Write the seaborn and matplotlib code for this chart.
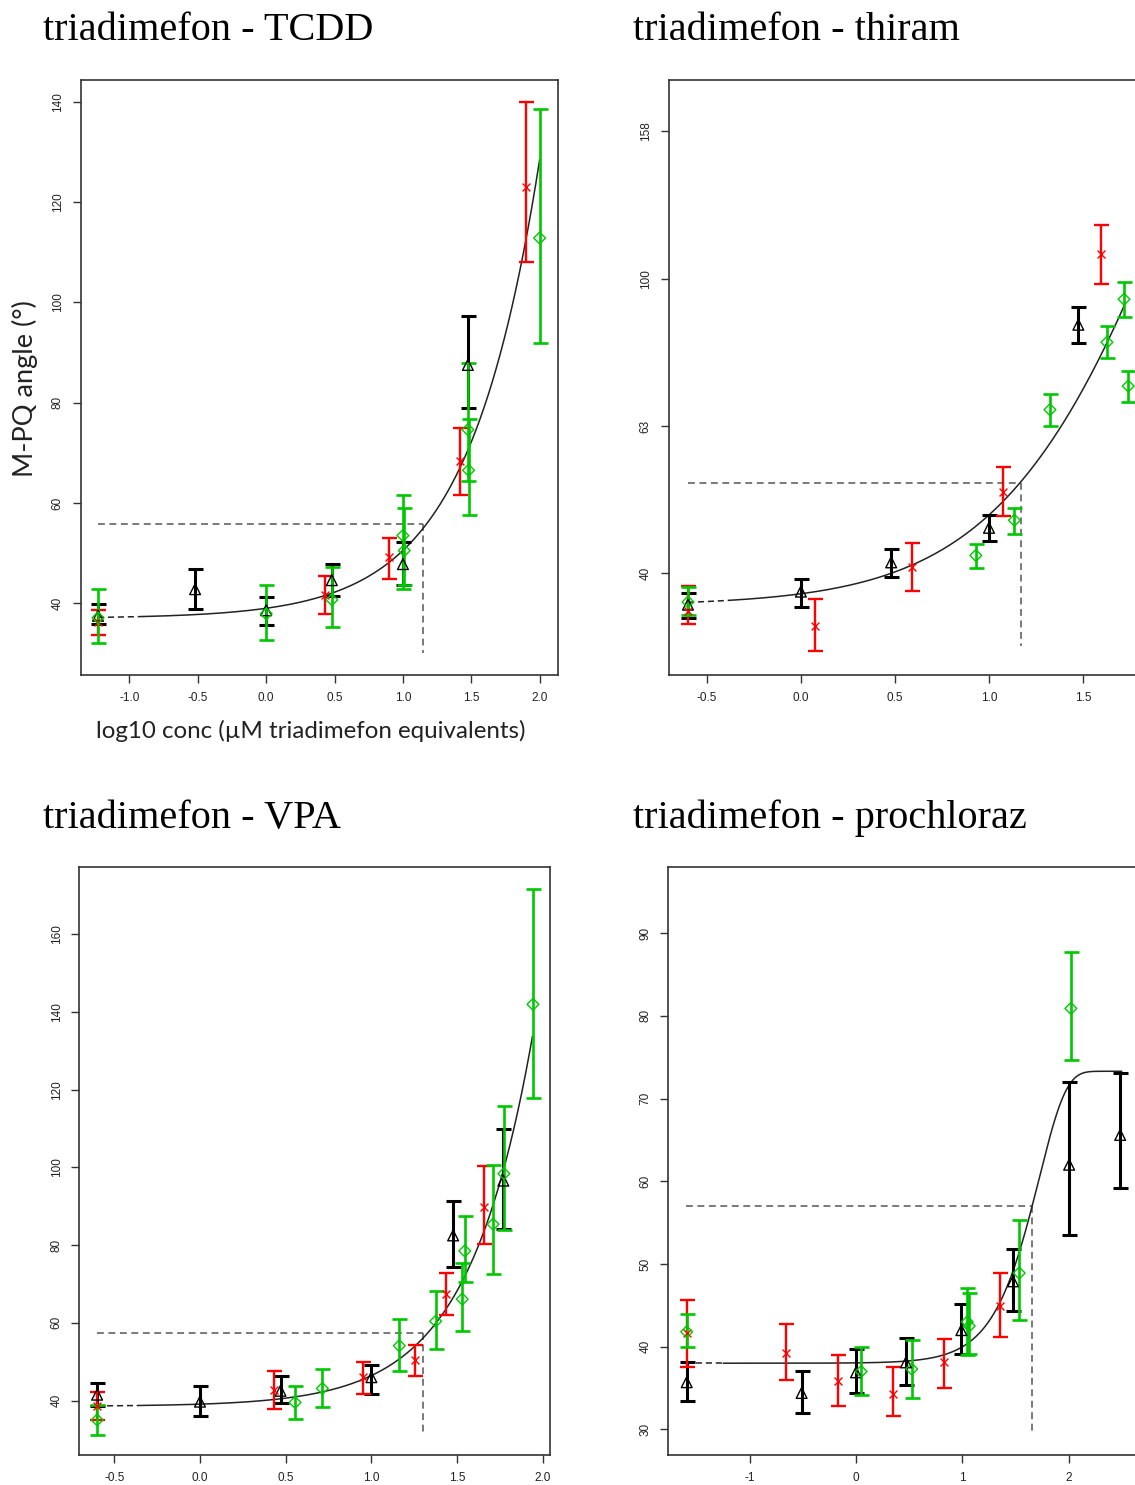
import numpy as np
import matplotlib
matplotlib.use("Agg")
import matplotlib.pyplot as plt
import seaborn as sns

# ------------------------------------------------------------------ data
titles = ["triadimefon - TCDD", "triadimefon - thiram",
          "triadimefon - VPA", "triadimefon - prochloraz"]
ylabel_text = "M-PQ angle (°)"
xlabel_text = "log10 conc (µM triadimefon equivalents)"

# Panel 1: TCDD
tcdd_black_x = [-1.23, -0.52, 0.0, 0.48, 1.0, 1.475]
tcdd_black_y = [37.5, 42.8, 38.6, 44.6, 47.8, 87.5]
tcdd_black_lo = [35.9, 38.9, 35.7, 41.5, 43.7, 79.0]
tcdd_black_hi = [39.8, 46.9, 41.3, 47.9, 52.2, 97.3]
tcdd_red_x = [-1.23, 0.43, 0.90, 1.42, 1.90]
tcdd_red_y = [36.3, 41.6, 49.3, 68.3, 123.0]
tcdd_red_lo = [33.6, 37.8, 44.9, 61.6, 108.0]
tcdd_red_hi = [38.6, 45.4, 53.1, 75.0, 140.0]
tcdd_green_x = [-1.23, 0.0, 0.48, 1.0, 1.01, 1.475, 1.48, 2.0]
tcdd_green_y = [37.1, 37.9, 40.7, 53.5, 50.5, 74.6, 66.5, 112.8]
tcdd_green_lo = [32.1, 32.7, 35.3, 42.9, 43.7, 64.3, 57.6, 91.8]
tcdd_green_hi = [42.8, 43.6, 47.3, 61.6, 58.9, 87.9, 76.8, 138.6]
tcdd_fit = [37.0, 2.0, 0.83]            # base, amplitude, rate
tcdd_fit_range = [-1.23, -0.90, 2.0]     # start, end of extrapolated part, end
tcdd_threshold = [1.145, 55.7, 30.0]     # x, y, bottom of drop line

# Panel 2: thiram (log y axis)
thiram_black_x = [-0.60, 0.0, 0.48, 1.0, 1.475]
thiram_black_y = [36.1, 37.6, 41.2, 45.9, 86.6]
thiram_black_lo = [34.6, 35.8, 39.4, 44.0, 81.8]
thiram_black_hi = [37.4, 39.1, 42.9, 47.8, 91.5]
thiram_red_x = [-0.60, 0.075, 0.592, 1.073, 1.594]
thiram_red_y = [35.4, 33.8, 40.6, 51.4, 108.0]
thiram_red_lo = [34.0, 31.2, 37.7, 47.7, 98.5]
thiram_red_hi = [38.3, 36.7, 43.8, 55.5, 118.3]
thiram_green_x = [-0.60, 0.93, 1.135, 1.324, 1.627, 1.718, 1.740]
thiram_green_y = [36.4, 42.1, 47.0, 66.4, 82.0, 93.8, 71.5]
thiram_green_lo = [34.9, 40.5, 45.0, 63.1, 78.0, 88.7, 68.0]
thiram_green_hi = [38.1, 43.7, 48.9, 69.8, 86.2, 98.9, 75.0]
thiram_fit = [36.0, 1.35, 0.941]
thiram_fit_range = [-0.60, -0.38, 1.725]
thiram_threshold = [1.17, 52.8, 31.7]

# Panel 3: VPA
vpa_black_x = [-0.60, 0.0, 0.47, 1.0, 1.477, 1.77]
vpa_black_y = [41.5, 39.7, 42.5, 46.0, 82.5, 96.6]
vpa_black_lo = [38.5, 36.1, 39.3, 41.8, 74.4, 84.1]
vpa_black_hi = [44.6, 43.8, 46.2, 49.1, 91.4, 109.9]
vpa_red_x = [-0.60, 0.43, 0.95, 1.254, 1.434, 1.657]
vpa_red_y = [38.5, 42.7, 46.0, 50.3, 67.4, 89.8]
vpa_red_lo = [35.0, 37.9, 41.8, 46.3, 62.1, 80.4]
vpa_red_hi = [42.3, 47.5, 49.8, 54.3, 72.8, 100.5]
vpa_green_x = [-0.60, 0.555, 0.714, 1.163, 1.375, 1.53, 1.545, 1.71, 1.773, 1.943]
vpa_green_y = [35.0, 39.5, 43.1, 54.1, 60.4, 66.1, 78.5, 85.4, 98.4, 142.0]
vpa_green_lo = [31.2, 35.3, 38.3, 47.7, 53.3, 57.8, 70.5, 72.6, 83.9, 117.8]
vpa_green_hi = [38.9, 43.8, 48.0, 60.9, 68.1, 75.5, 87.5, 100.6, 115.9, 171.6]
vpa_fit = [38.5, 0.56, 1.15]
vpa_fit_range = [-0.60, -0.365, 1.94]
vpa_threshold = [1.30, 57.4, 31.3]

# Panel 4: prochloraz
pro_black_x = [-1.593, -0.512, 0.0, 0.47, 0.991, 1.477, 2.005, 2.485]
pro_black_y = [35.7, 34.4, 36.9, 38.1, 42.0, 47.9, 62.0, 65.6]
pro_black_lo = [33.4, 32.0, 34.4, 35.4, 39.1, 44.3, 53.5, 59.2]
pro_black_hi = [38.2, 37.0, 39.7, 41.1, 45.1, 51.8, 72.0, 73.1]
pro_red_x = [-1.593, -0.656, -0.17, 0.349, 0.828, 1.359]
pro_red_y = [41.7, 39.2, 35.9, 34.3, 38.1, 44.9]
pro_red_lo = [37.5, 36.0, 32.8, 31.6, 35.0, 41.2]
pro_red_hi = [45.6, 42.7, 39.0, 37.5, 40.9, 48.9]
pro_green_x = [-1.593, 0.048, 0.524, 1.046, 1.065, 1.535, 2.021]
pro_green_y = [41.8, 37.0, 37.3, 43.0, 42.5, 48.9, 80.9]
pro_green_lo = [40.0, 34.1, 33.8, 39.0, 39.1, 43.2, 74.7]
pro_green_hi = [43.9, 40.0, 40.8, 47.1, 46.5, 55.3, 87.7]
pro_fit = [38.0, 73.3, 3.95, 1.722]     # bottom, top, slope, inflection (Weibull)
pro_fit_range = [-1.60, -1.25, 2.50]
pro_threshold = [1.66, 57.0, 29.4]

# tick values / labels
p1_xticks = [-1.0, -0.5, 0.0, 0.5, 1.0, 1.5, 2.0]
p1_yticks = [40, 60, 80, 100, 120, 140]
p2_xticks = [-0.5, 0.0, 0.5, 1.0, 1.5]
p2_yticks = [10 ** 1.6, 10 ** 1.8, 10 ** 2.0, 10 ** 2.2]
p2_yticklabels = ["40", "63", "100", "158"]
p3_xticks = [-0.5, 0.0, 0.5, 1.0, 1.5, 2.0]
p3_yticks = [40, 60, 80, 100, 120, 140, 160]
p4_xticks = [-1, 0, 1, 2]
p4_xticklabels = ["-1", "0", "1", "2"]
p4_yticks = [30, 40, 50, 60, 70, 80, 90]

# ------------------------------------------------------------------ style
sns.set_theme(style="white")
plt.rcParams["font.family"] = ["Liberation Sans", "DejaVu Sans"]
plt.rcParams["axes.unicode_minus"] = False

W, H = 1135, 1485
fig = plt.figure(figsize=(W / 100, H / 100), dpi=100)
fig.patch.set_facecolor("white")

BLACK, RED, GREEN = "#000000", "#ff0000", "#00c800"


def px_axes(left, top, right, bottom):
    return fig.add_axes([left / W, 1 - bottom / H, (right - left) / W, (bottom - top) / H])


def exp_model(p, x):
    return p[0] + p[1] * 10 ** (p[2] * x)


def weibull_model(p, x):
    return p[0] + (p[1] - p[0]) * (1 - np.exp(-np.exp(p[2] * (x - p[3]))))


def draw_series(ax, x, y, lo, hi, color, marker, lw, msize):
    x = np.asarray(x); y = np.asarray(y)
    lo = np.asarray(lo); hi = np.asarray(hi)
    ax.errorbar(x, y, yerr=[y - lo, hi - y], fmt="none", ecolor=color,
                elinewidth=lw, capsize=5.4, capthick=lw, zorder=3)
    if marker == "x":
        sns.scatterplot(x=x, y=y, ax=ax, marker="x", color=color, s=msize,
                        linewidth=1.0, zorder=4)
    else:
        sns.scatterplot(x=x, y=y, ax=ax, marker=marker, facecolor="none",
                        edgecolor=color, s=msize, linewidth=1.0, zorder=4)


def draw_curve(ax, model, params, rng, thr):
    xa = np.linspace(rng[0], rng[1], 60)
    xb = np.linspace(rng[1], rng[2], 400)
    sns.lineplot(x=xa, y=model(params, xa), ax=ax, color="#222222", lw=1.1,
                 dashes=False, linestyle=(0, (4, 2.5)), zorder=2)
    sns.lineplot(x=xb, y=model(params, xb), ax=ax, color="#222222", lw=1.1,
                 zorder=2)
    # threshold (EC) lines
    ax.plot([rng[0], thr[0]], [thr[1], thr[1]], color="#555555", lw=1.1,
            linestyle=(0, (4.5, 3)), zorder=1)
    ax.plot([thr[0], thr[0]], [thr[1], thr[2]], color="#555555", lw=1.1,
            linestyle=(0, (4.5, 3)), zorder=1)


def style_axes(ax):
    for s in ax.spines.values():
        s.set_visible(True)
        s.set_color("#333333")
        s.set_linewidth(1.2)
    ax.tick_params(axis="both", which="major", direction="out", length=6,
                   width=1.0, color="#333333", labelsize=8.5, pad=6,
                   labelcolor="#222222",
                   bottom=True, left=True, top=False, right=False)
    ax.tick_params(axis="both", which="minor", length=0)
    for lab in ax.get_yticklabels():
        lab.set_rotation(90)
        lab.set_va("center")
    ax.set_xlabel("")
    ax.set_ylabel("")
    ax.grid(False)
    ax.set_facecolor("white")


panels = [
    dict(box=(80.5, 80, 557.7, 675), xlim=(-1.358, 2.132), ylim=(25.7, 144.3),
         xt=p1_xticks, xtl=["%.1f" % v for v in p1_xticks], yt=p1_yticks,
         ytl=[str(v) for v in p1_yticks], log=False,
         series=[(tcdd_black_x, tcdd_black_y, tcdd_black_lo, tcdd_black_hi),
                 (tcdd_red_x, tcdd_red_y, tcdd_red_lo, tcdd_red_hi),
                 (tcdd_green_x, tcdd_green_y, tcdd_green_lo, tcdd_green_hi)],
         model=exp_model, fit=tcdd_fit, rng=tcdd_fit_range, thr=tcdd_threshold),
    dict(box=(668.5, 80, 1146, 675), xlim=(-0.7037, 1.8346),
         ylim=(10 ** 1.462, 10 ** 2.2698),
         xt=p2_xticks, xtl=["%.1f" % v for v in p2_xticks], yt=p2_yticks,
         ytl=p2_yticklabels, log=True,
         series=[(thiram_black_x, thiram_black_y, thiram_black_lo, thiram_black_hi),
                 (thiram_red_x, thiram_red_y, thiram_red_lo, thiram_red_hi),
                 (thiram_green_x, thiram_green_y, thiram_green_lo, thiram_green_hi)],
         model=exp_model, fit=thiram_fit, rng=thiram_fit_range, thr=thiram_threshold),
    dict(box=(79.3, 867, 549.8, 1455), xlim=(-0.704, 2.041), ylim=(25.97, 177.35),
         xt=p3_xticks, xtl=["%.1f" % v for v in p3_xticks], yt=p3_yticks,
         ytl=[str(v) for v in p3_yticks], log=False,
         series=[(vpa_black_x, vpa_black_y, vpa_black_lo, vpa_black_hi),
                 (vpa_red_x, vpa_red_y, vpa_red_lo, vpa_red_hi),
                 (vpa_green_x, vpa_green_y, vpa_green_lo, vpa_green_hi)],
         model=exp_model, fit=vpa_fit, rng=vpa_fit_range, thr=vpa_threshold),
    dict(box=(668, 867, 1156, 1455), xlim=(-1.769, 2.822), ylim=(26.9, 98.0),
         xt=p4_xticks, xtl=p4_xticklabels, yt=p4_yticks,
         ytl=[str(v) for v in p4_yticks], log=False,
         series=[(pro_black_x, pro_black_y, pro_black_lo, pro_black_hi),
                 (pro_red_x, pro_red_y, pro_red_lo, pro_red_hi),
                 (pro_green_x, pro_green_y, pro_green_lo, pro_green_hi)],
         model=weibull_model, fit=pro_fit, rng=pro_fit_range, thr=pro_threshold),
]

series_style = [(BLACK, "^", 2.2, 60), (RED, "x", 1.7, 32), (GREEN, "D", 1.9, 36)]

for P in panels:
    ax = px_axes(*P["box"])
    if P["log"]:
        ax.set_yscale("log")
    draw_curve(ax, P["model"], P["fit"], P["rng"], P["thr"])
    for (sx, sy, slo, shi), (c, m, lw, ms) in zip(P["series"], series_style):
        draw_series(ax, sx, sy, slo, shi, c, m, lw, ms)
    ax.set_xlim(*P["xlim"])
    ax.set_ylim(*P["ylim"])
    ax.set_xticks(P["xt"])
    ax.set_xticklabels(P["xtl"])
    ax.set_yticks(P["yt"])
    ax.set_yticklabels(P["ytl"])
    ax.minorticks_off()
    style_axes(ax)
    if ax.get_legend() is not None:
        ax.get_legend().remove()

# titles
title_pos = [(43, 40), (633, 40), (43, 828), (633, 828)]
for t, (tx, ty) in zip(titles, title_pos):
    fig.text(tx / W, 1 - ty / H, t, family=["Liberation Serif", "DejaVu Serif"],
             fontsize=29, ha="left", va="baseline", color="black")

# axis labels (panel 1)
fig.text(25 / W, 1 - 389 / H, ylabel_text, family=["Lato", "DejaVu Sans"],
         fontsize=19.5, rotation=90, ha="center", va="center", color="#222222")
fig.text(311 / W, 1 - 731 / H, xlabel_text, family=["Lato", "DejaVu Sans"],
         fontsize=17.4, ha="center", va="center", color="#222222")

fig.savefig("out.png", dpi=100, facecolor="white")
